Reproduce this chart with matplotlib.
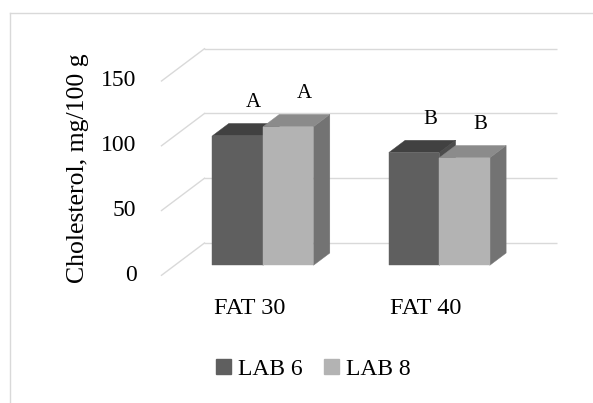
import matplotlib
matplotlib.use("Agg")
import matplotlib.pyplot as plt
from matplotlib.patches import Polygon
from matplotlib.lines import Line2D

# ---- data -------------------------------------------------------------
categories = ["FAT 30", "FAT 40"]
series_names = ["LAB 6", "LAB 8"]
lab6 = [100, 87]
lab8 = [107, 83]
group_letters_lab6 = ["A", "B"]
group_letters_lab8 = ["A", "B"]
y_ticks = [0, 50, 100, 150]
y_title = "Cholesterol, mg/100 g"

# ---- style ------------------------------------------------------------
FONT = ["Liberation Serif", "DejaVu Serif"]
plt.rcParams["font.family"] = FONT
GRID = "#d9d9d9"
FACE = {
    "LAB 6": dict(front="#5f5f5f", top="#414141", side="#4c4c4c"),
    "LAB 8": dict(front="#b3b3b3", top="#8b8b8b", side="#737373"),
}

W, H = 593, 403
fig = plt.figure(figsize=(W / 100, H / 100), dpi=100)

# the axes is the back wall of the 3-D box (category units x value units)
ax_left, ax_right, ax_bottom, ax_top = 204.5, 557.1, 160.0, 354.3
ax = fig.add_axes([ax_left / W, ax_bottom / H,
                   (ax_right - ax_left) / W, (ax_top - ax_bottom) / H])
xmin, xmax, ymin, ymax = -0.5, 1.5, 0, 150
ax.set_xlim(xmin, xmax)
ax.set_ylim(ymin, ymax)
ax.axis("off")

px_x = (ax_right - ax_left) / (xmax - xmin)   # pixels per category unit
px_y = (ax_top - ax_bottom) / (ymax - ymin)   # pixels per value unit

# oblique depth: full depth moves 43 px left and 32.3 px down
SX = -43.0 / px_x
SY = -32.3 / px_y


def at(x, y, d):
    """point (x, y) moved forward to depth d (0 = back wall, 1 = front)"""
    return (x + SX * d, y + SY * d)


# gridlines: back wall plus left side wall
for v in y_ticks:
    ax.plot([xmin, xmax], [v, v], color=GRID, lw=1.0, zorder=1,
            solid_capstyle="butt", clip_on=False)
    fx, fy = at(xmin, v, 1.0)
    ax.plot([xmin, fx], [v, fy], color=GRID, lw=1.0, zorder=1,
            clip_on=False)
    ax.annotate(str(v), xy=(fx, fy), xytext=(-25, 0),
                textcoords="offset pixels", ha="right", va="center",
                fontsize=17, color="#000000", annotation_clip=False)

# category labels along the front edge of the floor
for i, cat in enumerate(categories):
    fx, fy = at(i, 0, 1.0)
    ax.annotate(cat, xy=(fx, fy), xytext=(0, -33),
                textcoords="offset pixels", ha="center", va="center",
                fontsize=17.5, annotation_clip=False)

# 3-D columns, drawn left to right so nearer faces overlap correctly
bar_w = 50.5 / px_x
d_front, d_back = 0.69, 0.31
series = [(series_names[0], lab6, group_letters_lab6),
          (series_names[1], lab8, group_letters_lab8)]
z = 3
for i in range(len(categories)):
    for s, (name, vals, letters) in enumerate(series):
        v = vals[i]
        x0 = i - bar_w + s * bar_w
        x1 = x0 + bar_w
        c = FACE[name]
        front = [at(x0, 0, d_front), at(x1, 0, d_front),
                 at(x1, v, d_front), at(x0, v, d_front)]
        top = [at(x0, v, d_front), at(x1, v, d_front),
               at(x1, v, d_back), at(x0, v, d_back)]
        side = [at(x1, 0, d_front), at(x1, v, d_front),
                at(x1, v, d_back), at(x1, 0, d_back)]
        for poly, col in ((side, c["side"]), (top, c["top"]),
                          (front, c["front"])):
            ax.add_patch(Polygon(poly, closed=True, facecolor=col,
                                 edgecolor=col, lw=0.3, zorder=z,
                                 clip_on=False))
            z += 1
        tx, ty = at((x0 + x1) / 2, v, d_front)
        ax.annotate(letters[i], xy=(tx, ty), xytext=(16, 33),
                    textcoords="offset pixels", ha="center", va="center",
                    fontsize=15, zorder=z, annotation_clip=False)

# y-axis title
fig.text(78 / W, 1 - 168 / H, y_title, rotation=90, ha="center",
         va="center", fontsize=18.5)

# legend
handles = [Line2D([], [], marker="s", ls="", markersize=10.8,
                  markerfacecolor=FACE[n]["front"],
                  markeredgecolor=FACE[n]["front"]) for n in series_names]
fig.legend(handles, series_names, loc="center",
           bbox_to_anchor=(313 / W, 1 - 369 / H), ncol=2, frameon=False,
           fontsize=17, handlelength=0.65, handletextpad=0.3,
           columnspacing=0.9, borderpad=0, borderaxespad=0)

# chart-area border (top and left edges)
fig.add_artist(Line2D([10 / W, 1], [1 - 13 / H, 1 - 13 / H],
                      transform=fig.transFigure, color=GRID, lw=1.0))
fig.add_artist(Line2D([10 / W, 10 / W], [0, 1 - 13 / H],
                      transform=fig.transFigure, color=GRID, lw=1.0))

fig.savefig("out.png", dpi=100, facecolor="white")
